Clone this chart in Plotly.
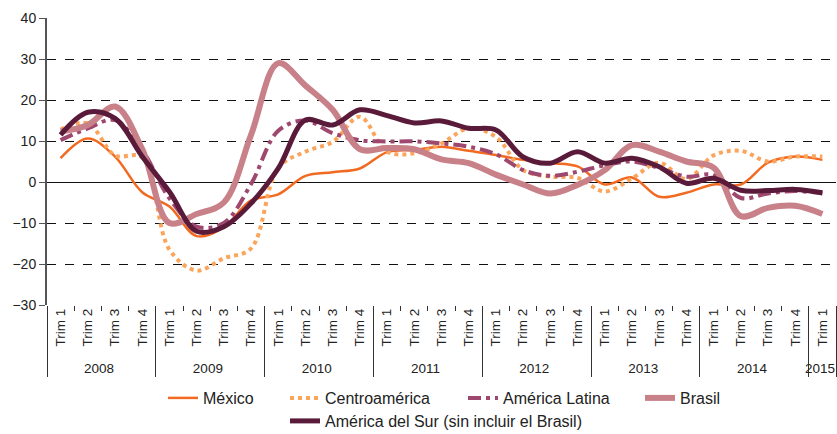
import plotly.graph_objects as go

years = ["2008", "2009", "2010", "2011", "2012", "2013", "2014", "2015"]
quarters = ["Trim 1", "Trim 2", "Trim 3", "Trim 4"]
x_year = [y for y in years[:-1] for _ in quarters] + ["2015"]
x_trim = quarters * 7 + ["Trim 1"]

mexico = [5.8, 10.6, 6.2, -2.5, -6.0, -13.2, -11.0, -4.5, -3.0, 1.5, 2.4, 3.3, 7.3, 7.8, 8.6,
          7.6, 6.6, 5.4, 4.6, 3.8, -0.6, 1.1, -3.6, -2.6, -0.6, -0.6, 4.7, 6.2, 5.4]
centro = [12.8, 14.3, 6.5, 6.0, -16.5, -21.6, -18.6, -16.2, 3.5, 7.4, 9.8, 15.9, 7.4, 7.0, 9.4,
          13.1, 11.0, 2.9, 1.3, 1.0, -2.3, 0.9, 4.7, 0.7, 6.5, 7.6, 5.0, 6.2, 6.2]
latina = [10.2, 13.1, 15.1, 7.8, -4.0, -10.9, -10.0, -0.5, 12.5, 15.0, 11.9, 10.2, 9.9, 9.9, 9.4,
          8.6, 6.8, 2.9, 1.5, 2.5, 4.1, 5.0, 3.4, 1.3, 1.7, -3.9, -2.8, -2.2, -2.8]
brasil = [12.3, 13.9, 18.4, 8.0, -10.0, -7.8, -5.0, 11.5, 29.0, 23.5, 17.6, 8.0, 8.3, 8.0, 5.5,
          4.6, 1.8, -0.6, -2.8, -0.7, 2.9, 9.0, 7.4, 5.0, 3.5, -8.3, -6.3, -5.8, -7.8]
sur = [11.5, 17.0, 15.5, 6.2, -2.4, -12.0, -10.9, -5.2, 3.3, 15.1, 13.9, 17.6, 16.2, 14.4, 14.9,
       13.1, 12.7, 6.1, 4.6, 7.4, 4.6, 5.8, 3.7, -0.3, 0.9, -2.0, -2.1, -1.8, -2.6]

n = len(x_trim)
boundaries = [i - 0.5 for i in range(n + 1)]
year_bounds = [3.5, 7.5, 11.5, 15.5, 19.5, 23.5, 27.5, 28.5]

FONT = "Liberation Sans, Arial, sans-serif"
TXT = "#222222"

# plot area in pixels: x 47..836, y 18..305
L, R, T, B = 47, 836, 18, 305
W, H = R - L, B - T


def px_x(px):
    return (px - L) / W


def px_y(py):
    return (B - py) / H


series = [
    ("México", mexico, "#F26A21", 2.5, "solid", "legend", 168),
    ("Centroamérica", centro, "#FBA55C", 4, "dot", "legend2", 290),
    ("América Latina", latina, "#9E476F", 4, "13px,5px,4px,5px", "legend3", 468),
    ("Brasil", brasil, "#C98189", 6, "solid", "legend4", 645),
    ("América del Sur (sin incluir el Brasil)", sur, "#5A1A3A", 5, "solid", "legend5", 290),
]

fig = go.Figure()
for name, vals, color, w, dash, leg, _ in series:
    fig.add_trace(go.Scatter(
        x=[x_year, x_trim], y=vals, name=name, mode="lines",
        line=dict(color=color, width=w, dash=dash, shape="spline", smoothing=1.0),
        legend=leg,
    ))

legends = {}
for name, vals, color, w, dash, leg, sx in series:
    row_y = 421 if leg == "legend5" else 398
    legends[leg] = dict(
        orientation="h", x=px_x(sx - 5), xanchor="left", y=px_y(row_y), yanchor="middle",
        font=dict(size=16, family=FONT, color=TXT), itemwidth=30,
        bgcolor="rgba(0,0,0,0)", borderwidth=0,
    )

zero_pos = 30 / 70

fig.update_layout(
    width=837, height=434,
    margin=dict(l=L, r=837 - R, t=T, b=434 - B, autoexpand=False),
    paper_bgcolor="white", plot_bgcolor="white",
    font=dict(family=FONT, size=13, color=TXT),
    showlegend=True,
    **legends,
    xaxis=dict(
        type="multicategory", showgrid=False, showline=False, zeroline=False, automargin=False,
        tickangle=-90, ticks="outside", ticklen=5, tickcolor="#333333", tickson="boundaries",
        tickfont=dict(size=13.5, family=FONT, color=TXT),
        showdividers=True, dividercolor="#333333", dividerwidth=1,
        range=[-0.5, n - 0.5],
    ),
    xaxis2=dict(
        overlaying="x", anchor="free", position=zero_pos, side="bottom", automargin=False,
        range=[-0.5, n - 0.5], tickvals=boundaries, ticks="outside", ticklen=6,
        tickcolor="#222222", showticklabels=False, showgrid=False, zeroline=False, showline=False,
    ),
    xaxis3=dict(
        overlaying="x", anchor="free", position=zero_pos, side="bottom", automargin=False,
        range=[-0.5, n - 0.5], tickvals=year_bounds, ticks="outside", ticklen=15,
        tickcolor="#222222", showticklabels=False, showgrid=False, zeroline=False, showline=False,
    ),
    yaxis=dict(
        range=[-30, 40], tickvals=[-30, -20, -10, 0, 10, 20, 30, 40], automargin=False,
        showgrid=True, gridcolor="#111111", gridwidth=1, griddash="dash",
        zeroline=True, zerolinecolor="#111111", zerolinewidth=1,
        showline=True, linecolor="#555555", linewidth=2,
        ticks="outside", ticklen=6, tickcolor="#555555",
        tickfont=dict(size=14, family=FONT, color=TXT),
    ),
)

fig.write_html(
    "out.html",
    config={"displayModeBar": False},
    post_script="document.body.style.margin='0';document.body.style.padding='0';"
                "document.documentElement.style.overflow='hidden';",
)
